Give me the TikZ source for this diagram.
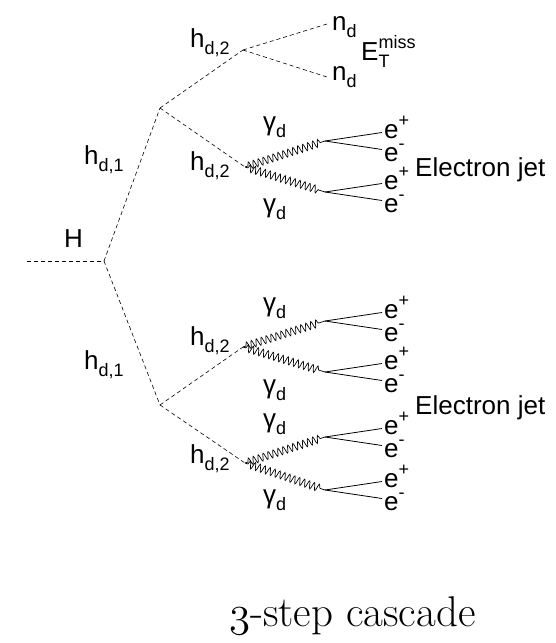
\RequirePackage{fix-cm}
\documentclass[tikz,border=0pt]{standalone}
\usepackage{fontspec}
\usetikzlibrary{decorations.pathmorphing}
\newfontfamily\labfont{Liberation Sans}
\newcommand\lbl{\labfont\fontsize{26}{26}\selectfont}
\newcommand\dn[1]{\raisebox{-0.3em}{\fontsize{18}{18}\selectfont #1}}
\newcommand\up[1]{\raisebox{0.45em}{\fontsize{18}{18}\selectfont #1}}
\tikzset{
  scalar/.style={dash pattern=on 4pt off 3pt, line width=0.6pt},
  photon/.style={decorate, decoration={snake, segment length=5.2pt, amplitude=3.8pt, pre length=3pt, post length=5pt}, line width=0.7pt},
  lepton/.style={line width=0.8pt},
  txt/.style={anchor=base west, inner sep=0pt, font=\lbl},
}
\begin{document}
\begin{tikzpicture}[x=1pt, y=-1pt]
\useasboundingbox (0,0) rectangle (555,643);

% vertices
\coordinate (Hin) at (27,261);
\coordinate (VH) at (104,261);
\coordinate (V1) at (160,108);
\coordinate (V2) at (160,405);
\coordinate (Vn) at (243,50);
\coordinate (Va) at (245,167);
\coordinate (Vb) at (243,347);
\coordinate (Vc) at (245,463);

% invisible neutrals
\coordinate (n1) at (327,24);
\coordinate (n2) at (327,77);

% photon ends (electron-pair vertices)
\foreach \name/\py in {Ja/141, Jb/192, Jc/321, Jd/372, Je/437, Jf/490} {
  \coordinate (\name) at (325,\py);
  \coordinate (\name p) at (382,\py-8.5);
  \coordinate (\name m) at (382,\py+8.5);
}

% scalar cascade
\draw[scalar] (Hin) -- (VH);
\draw[scalar] (VH) -- (V1);
\draw[scalar] (VH) -- (V2);
\draw[scalar] (V1) -- (Vn);
\draw[scalar] (V1) -- (Va);
\draw[scalar] (V2) -- (Vb);
\draw[scalar] (V2) -- (Vc);
\draw[scalar] (Vn) -- (n1);
\draw[scalar] (Vn) -- (n2);

% dark photons
\foreach \v/\a/\b in {Va/Ja/Jb, Vb/Jc/Jd, Vc/Je/Jf} {
  \draw[photon] (\v) -- (\a);
  \draw[photon] (\v) -- (\b);
}

% electron pairs
\foreach \j in {Ja,Jb,Jc,Jd,Je,Jf} {
  \draw[lepton] (\j) -- (\j p);
  \draw[lepton] (\j) -- (\j m);
}

% labels
\node[txt] (lH) at (64,247) {H};
\node[txt] (lh1a) at (84,164) {h\dn{d,1}};
\node[txt] (lh1b) at (84,369) {h\dn{d,1}};
\node[txt] (lh2n) at (190,47) {h\dn{d,2}};
\node[txt] (lh2a) at (190,170) {h\dn{d,2}};
\node[txt] (lh2b) at (190,345) {h\dn{d,2}};
\node[txt] (lh2c) at (190,463) {h\dn{d,2}};
\node[txt] (lnd1) at (332,30) {n\dn{d}};
\node[txt] (lnd2) at (332,80) {n\dn{d}};
\node[txt] (lmet) at (361,60) {E\rlap{\dn{T}}\up{miss}};

\foreach \nm/\yy in {ga1/130, ga2/212, gb1/311, gb2/393, gc1/427, gc2/503} {
  \node[txt] (\nm) at (263,\yy) {γ\dn{d}};
}

\foreach \j/\py in {Ja/141, Jb/192, Jc/321, Jd/372, Je/437, Jf/490} {
  \node[txt] (\j e+) at (384,\py-3) {e\up{+}};
  \node[txt] (\j e-) at (384,\py+20) {e\up{-}};
}

\node[txt] (jet1) at (415,176) {Electron jet};
\node[txt] (jet2) at (415,414) {Electron jet};

\node[anchor=base west, inner sep=0pt] (title) at (229,626)
  {\fontsize{43}{43}\selectfont$\mathnormal{3}$-step cascade};
\end{tikzpicture}
\end{document}
